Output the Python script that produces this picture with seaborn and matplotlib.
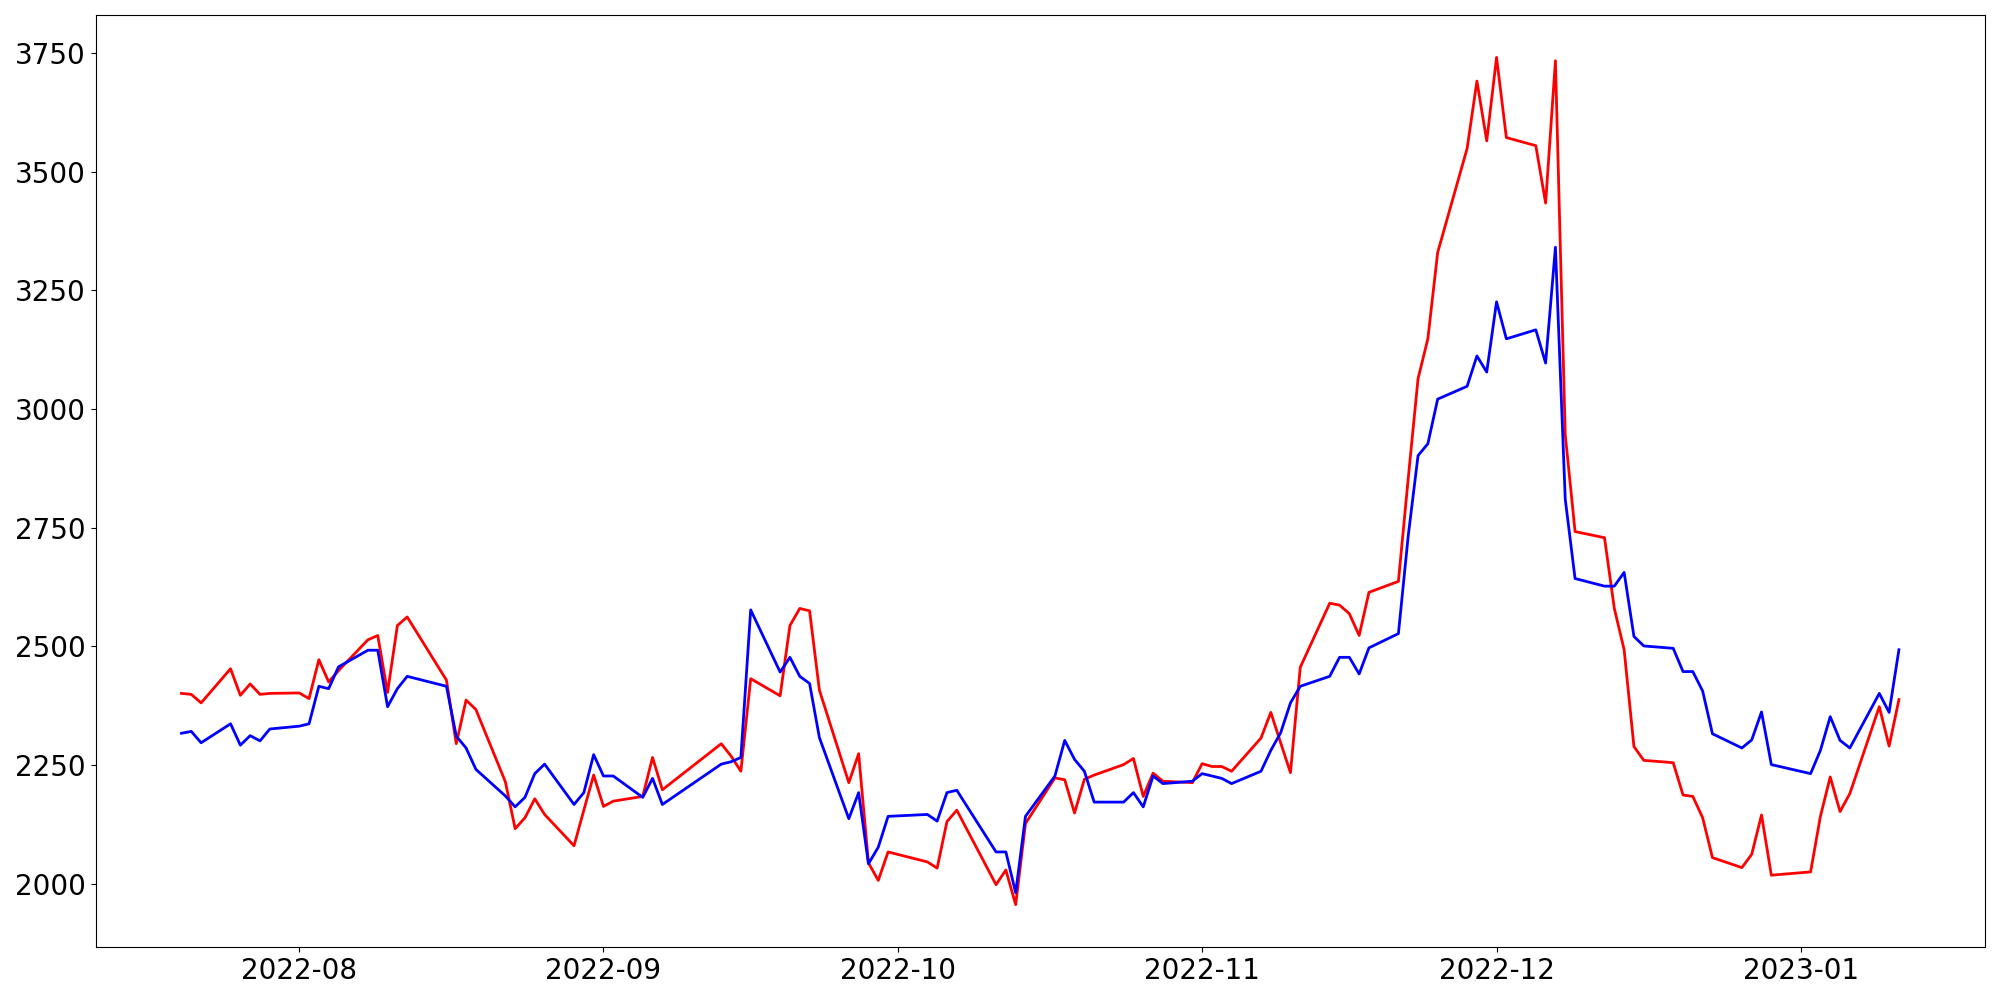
import matplotlib
matplotlib.use("Agg")
import matplotlib.pyplot as plt
import matplotlib.dates as mdates
import pandas as pd
import seaborn as sns

dates = [
    "2022-07-20", "2022-07-21", "2022-07-22", "2022-07-25", "2022-07-26", "2022-07-27", "2022-07-28", "2022-07-29",
    "2022-08-01", "2022-08-02", "2022-08-03", "2022-08-04", "2022-08-05", "2022-08-08", "2022-08-09", "2022-08-10",
    "2022-08-11", "2022-08-12", "2022-08-16", "2022-08-17", "2022-08-18", "2022-08-19", "2022-08-22", "2022-08-23",
    "2022-08-24", "2022-08-25", "2022-08-26", "2022-08-29", "2022-08-30", "2022-08-31",
    "2022-09-01", "2022-09-02", "2022-09-05", "2022-09-06", "2022-09-07", "2022-09-13", "2022-09-14", "2022-09-15",
    "2022-09-16", "2022-09-19", "2022-09-20", "2022-09-21", "2022-09-22", "2022-09-23", "2022-09-26", "2022-09-27",
    "2022-09-28", "2022-09-29", "2022-09-30",
    "2022-10-04", "2022-10-05", "2022-10-06", "2022-10-07", "2022-10-11", "2022-10-12", "2022-10-13", "2022-10-14",
    "2022-10-17", "2022-10-18", "2022-10-19", "2022-10-20", "2022-10-21", "2022-10-24", "2022-10-25", "2022-10-26",
    "2022-10-27", "2022-10-28", "2022-10-31",
    "2022-11-01", "2022-11-02", "2022-11-03", "2022-11-04", "2022-11-07", "2022-11-08", "2022-11-09", "2022-11-10",
    "2022-11-11", "2022-11-14", "2022-11-15", "2022-11-16", "2022-11-17", "2022-11-18", "2022-11-21", "2022-11-22",
    "2022-11-23", "2022-11-24", "2022-11-25", "2022-11-28", "2022-11-29", "2022-11-30",
    "2022-12-01", "2022-12-02", "2022-12-05", "2022-12-06", "2022-12-07", "2022-12-08", "2022-12-09", "2022-12-12",
    "2022-12-13", "2022-12-14", "2022-12-15", "2022-12-16", "2022-12-19", "2022-12-20", "2022-12-21", "2022-12-22",
    "2022-12-23", "2022-12-26", "2022-12-27", "2022-12-28", "2022-12-29",
    "2023-01-02", "2023-01-03", "2023-01-04", "2023-01-05", "2023-01-06", "2023-01-09", "2023-01-10", "2023-01-11",
]

red_values = [
    2401, 2399, 2381, 2453, 2397, 2421, 2399, 2401,
    2402, 2390, 2472, 2425, 2449, 2514, 2523, 2403,
    2544, 2562, 2429, 2295, 2387, 2367, 2215, 2116,
    2139, 2179, 2146, 2080, 2155, 2229,
    2163, 2174, 2184, 2266, 2198, 2295, 2269, 2237,
    2432, 2396, 2544, 2580, 2575, 2408, 2213, 2274,
    2044, 2007, 2067,
    2046, 2033, 2131, 2155, 1998, 2029, 1956, 2127,
    2223, 2219, 2149, 2220, 2229, 2251, 2264, 2184,
    2233, 2216, 2213,
    2253, 2247, 2247, 2237, 2307, 2361, 2297, 2234,
    2456, 2591, 2587, 2569, 2523, 2614, 2637, 2854,
    3064, 3148, 3330, 3549, 3691, 3565,
    3741, 3572, 3555, 3434, 3734, 2946, 2742, 2729,
    2580, 2493, 2289, 2260, 2255, 2187, 2184, 2139,
    2055, 2034, 2062, 2145, 2018,
    2025, 2142, 2225, 2152, 2190, 2373, 2290, 2388,
]

blue_values = [
    2317, 2321, 2297, 2337, 2292, 2312, 2301, 2326,
    2332, 2337, 2416, 2411, 2457, 2492, 2492, 2373,
    2411, 2437, 2416, 2311, 2286, 2241, 2185, 2162,
    2182, 2232, 2252, 2167, 2192, 2272,
    2227, 2227, 2182, 2222, 2167, 2252, 2257, 2266,
    2577, 2446, 2477, 2437, 2422, 2308, 2137, 2192,
    2042, 2077, 2142,
    2146, 2132, 2192, 2197, 2067, 2067, 1981, 2142,
    2227, 2302, 2262, 2237, 2172, 2172, 2192, 2162,
    2227, 2211, 2216,
    2232, 2227, 2222, 2211, 2237, 2281, 2318, 2381,
    2416, 2437, 2477, 2477, 2442, 2497, 2527, 2733,
    2902, 2927, 3021, 3048, 3112, 3078,
    3226, 3148, 3167, 3097, 3341, 2810, 2643, 2627,
    2627, 2656, 2521, 2501, 2496, 2447, 2447, 2406,
    2316, 2286, 2303, 2362, 2251,
    2232, 2281, 2352, 2302, 2286, 2401, 2361, 2493,
]

df = pd.DataFrame({
    "date": pd.to_datetime(dates),
    "red": red_values,
    "blue": blue_values,
})

fig = plt.figure(figsize=(20, 10), dpi=100)
ax = fig.add_axes([0.0478, 0.053, 0.9446, 0.932])

sns.lineplot(data=df, x="date", y="red", color="red", linewidth=2, ax=ax, estimator=None)
sns.lineplot(data=df, x="date", y="blue", color="blue", linewidth=2, ax=ax, estimator=None)

ax.xaxis.set_major_locator(mdates.MonthLocator())
ax.xaxis.set_major_formatter(mdates.DateFormatter("%Y-%m"))
ax.set_xlabel("")
ax.set_ylabel("")
ax.tick_params(axis="both", labelsize=20)

fig.savefig("out.png", dpi=100)
